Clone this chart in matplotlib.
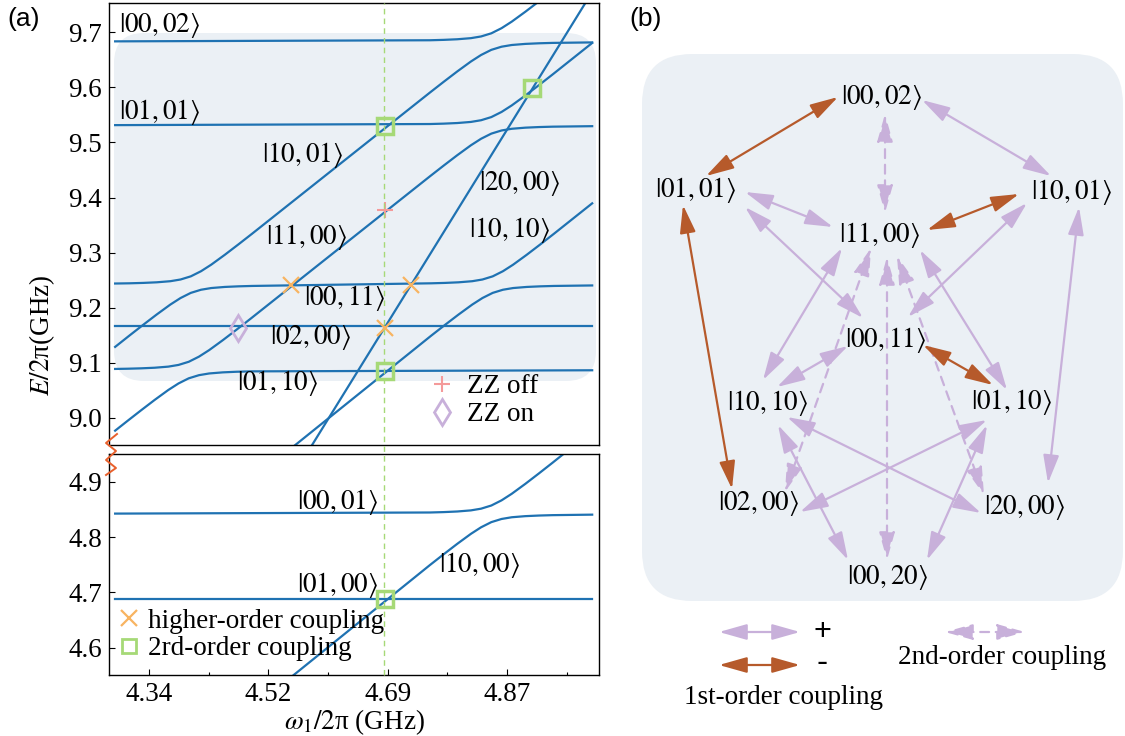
import matplotlib
matplotlib.use('Agg')
import matplotlib.pyplot as plt
from matplotlib.patches import FancyBboxPatch
from matplotlib.lines import Line2D
from matplotlib.transforms import IdentityTransform

plt.rcParams['font.family'] = ['Liberation Serif', 'DejaVu Serif']
plt.rcParams['mathtext.fontset'] = 'stix'
plt.rcParams['font.size'] = 19.5

W, H = 1125, 736
FS = 19.5

C = dict(
    level  = '#1f72b2',
    shade  = '#ebf0f5',
    green  = '#a6d977',
    orange = '#f8b461',
    pink   = '#f49a9a',
    purple = '#c8b0da',
    brown  = '#b65a2b',
    zig    = '#e8602c',
)

# ─────────────────────────────────────────────
# DATA  (a): dressed levels, omega_1/2pi vs E/2pi  (GHz)
# ─────────────────────────────────────────────
# upper panel, two-excitation manifold
w_0002 = [4.29, 4.752, 4.772, 4.792, 4.812, 4.827, 4.842, 4.857, 4.872, 4.892, 4.912, 4.932, 4.99]
e_0002 = [9.6834, 9.6854, 9.6861, 9.6872, 9.6892, 9.6923, 9.698, 9.7073, 9.7192, 9.7372, 9.7561, 9.7754, 9.831]

w_1001 = [4.29, 4.311, 4.331, 4.351, 4.371, 4.386, 4.401, 4.416, 4.431, 4.451, 4.471, 4.491,
          4.752, 4.772, 4.792, 4.812, 4.827, 4.842, 4.857, 4.872, 4.892, 4.912, 4.932, 4.99]
e_1001 = [9.244, 9.2444, 9.2451, 9.2462, 9.2482, 9.2513, 9.257, 9.2663, 9.2782, 9.2962, 9.3151, 9.3344,
          9.5906, 9.6099, 9.6288, 9.6468, 9.6587, 9.668, 9.6737, 9.6768, 9.6788, 9.6799, 9.6806, 9.6815]

w_0011 = [4.29, 4.311, 4.331, 4.351, 4.371, 4.386, 4.401, 4.416, 4.431, 4.451, 4.471, 4.491,
          4.754, 4.774, 4.794, 4.814, 4.829, 4.844, 4.859, 4.874, 4.894, 4.914, 4.934, 4.99]
e_0011 = [9.129, 9.1496, 9.1689, 9.1878, 9.2058, 9.2177, 9.227, 9.2327, 9.2358, 9.2378, 9.2389, 9.2396,
          9.2444, 9.2451, 9.2462, 9.2482, 9.2513, 9.257, 9.2663, 9.2782, 9.2962, 9.3151, 9.3344, 9.3895]

w_1010 = [4.29, 4.754, 4.774, 4.794, 4.814, 4.829, 4.844, 4.859, 4.874, 4.894, 4.914, 4.934, 4.99]
e_1010 = [8.688, 9.1496, 9.1689, 9.1878, 9.2058, 9.2177, 9.227, 9.2327, 9.2358, 9.2378, 9.2389, 9.2396, 9.2405]

w_0110 = [4.29, 4.308, 4.328, 4.348, 4.368, 4.383, 4.398, 4.413, 4.428, 4.448, 4.468, 4.488,
          4.752, 4.772, 4.792, 4.812, 4.827, 4.842, 4.857, 4.872, 4.892, 4.912, 4.932, 4.99]
e_0110 = [9.089, 9.0894, 9.0901, 9.0912, 9.0932, 9.0963, 9.102, 9.1113, 9.1232, 9.1412, 9.1601, 9.1794,
          9.4386, 9.4579, 9.4768, 9.4948, 9.5067, 9.516, 9.5217, 9.5248, 9.5268, 9.5279, 9.5286, 9.5295]

w_1100 = [4.29, 4.308, 4.328, 4.348, 4.368, 4.383, 4.398, 4.413, 4.428, 4.448, 4.468, 4.488, 4.99]
e_1100 = [8.977, 8.9946, 9.0139, 9.0328, 9.0508, 9.0627, 9.072, 9.0777, 9.0808, 9.0828, 9.0839, 9.0846, 9.0866]

w_0101 = [4.29, 4.752, 4.772, 4.792, 4.812, 4.827, 4.842, 4.857, 4.872, 4.892, 4.912, 4.932, 4.99]
e_0101 = [9.5314, 9.5334, 9.5341, 9.5352, 9.5372, 9.5403, 9.546, 9.5553, 9.5672, 9.5852, 9.6041, 9.6234, 9.6805]

w_2000 = [4.55, 4.99]
e_2000 = [8.893, 9.773]

w_0200 = [4.29, 4.99]
e_0200 = [9.167, 9.167]

# lower panel, single-excitation manifold
w_0001 = [4.29, 4.752, 4.772, 4.792, 4.812, 4.827, 4.842, 4.857, 4.872, 4.892, 4.912, 4.932, 4.99]
e_0001 = [4.8424, 4.8444, 4.8451, 4.8462, 4.8482, 4.8513, 4.857, 4.8663, 4.8782, 4.8962, 4.9151, 4.9344, 4.9915]

w_1000 = [4.50, 4.752, 4.772, 4.792, 4.812, 4.827, 4.842, 4.857, 4.872, 4.892, 4.912, 4.932, 4.99]
e_1000 = [4.4993, 4.7496, 4.7689, 4.7878, 4.8058, 4.8177, 4.827, 4.8327, 4.8358, 4.8378, 4.8389, 4.8396, 4.8405]

w_0100 = [4.29, 4.99]
e_0100 = [4.689, 4.689]

# operating point and marked crossings
w_op = 4.684
sq_w_top, sq_e_top = [4.686, 4.686, 4.902], [9.529, 9.085, 9.598]
sq_w_bot, sq_e_bot = [4.686], [4.689]
hx_w, hx_e = [4.548, 4.686, 4.724], [9.242, 9.164, 9.242]
off_w, off_e = [4.686], [9.377]
on_w, on_e = [4.471], [9.164]

xticks = [4.34, 4.515, 4.69, 4.865]
xticklabels = ['4.34', '4.52', '4.69', '4.87']
xminor = [4.4275, 4.6025, 4.7775, 4.9525]
yticks_top = [9.0, 9.1, 9.2, 9.3, 9.4, 9.5, 9.6, 9.7]
yticks_bot = [4.6, 4.7, 4.8, 4.9]

# ket labels (a): text, omega, E
labels_top = [
    (r'$|00,02\rangle$', 4.296, 9.713),
    (r'$|01,01\rangle$', 4.296, 9.556),
    (r'$|10,01\rangle$', 4.505, 9.477),
    (r'$|11,00\rangle$', 4.511, 9.328),
    (r'$|20,00\rangle$', 4.824, 9.426),
    (r'$|10,10\rangle$', 4.809, 9.341),
    (r'$|00,11\rangle$', 4.567, 9.217),
    (r'$|02,00\rangle$', 4.517, 9.146),
    (r'$|01,10\rangle$', 4.469, 9.063),
]
labels_bot = [
    (r'$|00,01\rangle$', 4.557, 4.864),
    (r'$|01,00\rangle$', 4.557, 4.714),
    (r'$|10,00\rangle$', 4.765, 4.750),
]

# ─────────────────────────────────────────────
# DATA  (b): coupling graph
# ─────────────────────────────────────────────
states = ['00,02', '01,01', '10,01', '11,00', '00,11', '10,10', '01,10', '02,00', '20,00', '00,20']
first_minus = [('01,01', '00,02'), ('11,00', '10,01'), ('01,01', '02,00'), ('00,11', '01,10')]
first_plus = [('00,02', '10,01'), ('01,01', '11,00'), ('01,01', '00,11'), ('11,00', '10,10'),
              ('10,01', '00,11'), ('11,00', '01,10'), ('10,01', '20,00'), ('00,11', '10,10'),
              ('10,10', '20,00'), ('01,10', '02,00'), ('10,10', '00,20'), ('01,10', '00,20')]
second = [('00,02', '11,00'), ('11,00', '02,00'), ('11,00', '00,20'), ('11,00', '20,00')]

# layout of (b) in pixels (origin top-left)
node_xy = {'00,02': (882, 97), '01,01': (696, 190), '10,01': (1072, 192), '11,00': (880, 235),
           '00,11': (886, 340), '10,10': (768, 403), '01,10': (1012, 402), '02,00': (759, 503),
           '20,00': (1025, 507), '00,20': (888, 577)}
tips = {
    ('01,01', '00,02'): ((706, 176), (838, 97)),
    ('11,00', '10,01'): ((927, 230), (1019, 194)),
    ('01,01', '02,00'): ((683, 205), (732, 489)),
    ('00,11', '01,10'): ((923, 345), (993, 385)),
    ('00,02', '10,01'): ((922, 100), (1051, 176)),
    ('01,01', '11,00'): ((745, 192), (833, 227)),
    ('01,01', '00,11'): ((745, 207), (863, 318)),
    ('11,00', '10,10'): ((842, 248), (763, 380)),
    ('10,01', '00,11'): ((1027, 203), (908, 317)),
    ('11,00', '01,10'): ((920, 250), (1007, 390)),
    ('10,01', '20,00'): ((1079, 207), (1048, 483)),
    ('00,11', '10,10'): ((848, 346), (777, 387)),
    ('10,10', '20,00'): ((787, 417), (981, 513)),
    ('01,10', '02,00'): ((987, 420), (800, 512)),
    ('10,10', '00,20'): ((778, 425), (848, 560)),
    ('01,10', '00,20'): ((987, 425), (927, 560)),
    ('00,02', '11,00'): ((885, 114), (885, 213)),
    ('11,00', '02,00'): ((871, 248), (785, 492)),
    ('11,00', '00,20'): ((887, 257), (887, 560)),
    ('11,00', '20,00'): ((897, 256), (984, 495)),
}

# ─────────────────────────────────────────────
# FIGURE
# ─────────────────────────────────────────────
fig = plt.figure(figsize=(W / 100, H / 100), dpi=100, facecolor='white')
ax_t = fig.add_axes([109 / W, 1 - 445 / H, 490 / W, 442 / H])
ax_b = fig.add_axes([109 / W, 1 - 675 / H, 490 / W, 221 / H])

shade = FancyBboxPatch((114, H - 381), 482, 348, boxstyle='round,pad=0,rounding_size=30',
                       transform=IdentityTransform(), facecolor=C['shade'], edgecolor='none', zorder=0.5)
ax_t.add_artist(shade)

lw = 1.6
for w, e in [(w_0002, e_0002), (w_1001, e_1001), (w_0011, e_0011), (w_1010, e_1010),
             (w_0110, e_0110), (w_1100, e_1100), (w_0101, e_0101), (w_2000, e_2000), (w_0200, e_0200)]:
    ax_t.plot(w, e, color=C['level'], lw=lw, zorder=2)
for w, e in [(w_0001, e_0001), (w_1000, e_1000), (w_0100, e_0100)]:
    ax_b.plot(w, e, color=C['level'], lw=lw, zorder=2)

# markers
sq_kw = dict(ls='none', marker='s', ms=11, mfc='none', mec=C['green'], mew=2.5, zorder=4)
hx_kw = dict(ls='none', marker='x', ms=11, color=C['orange'], mew=1.6, zorder=4)
off_kw = dict(ls='none', marker='+', ms=12, color=C['pink'], mew=1.5, zorder=4)
on_kw = dict(ls='none', marker='d', ms=13, mfc='none', mec=C['purple'], mew=2.0, zorder=4)
ax_t.plot(sq_w_top, sq_e_top, **sq_kw)
ax_t.plot(hx_w, hx_e, **hx_kw)
ax_t.plot(off_w, off_e, **off_kw)
ax_t.plot(on_w, on_e, **on_kw)
ax_b.plot(sq_w_bot, sq_e_bot, **sq_kw)

# operating point (spans both panels)
ax_b.axvline(w_op, ymin=0, ymax=(675 - 3) / 221, color=C['green'], ls='--', lw=1.0,
             dashes=(4, 3), clip_on=False, zorder=3)

for txt, x, y in labels_top:
    ax_t.text(x, y, txt, ha='left', va='center', fontsize=FS, zorder=5)
for txt, x, y in labels_bot:
    ax_b.text(x, y, txt, ha='left', va='center', fontsize=FS, zorder=5)

# axes cosmetics
for ax in (ax_t, ax_b):
    ax.set_xlim(4.281, 5.0)
    for s in ax.spines.values():
        s.set_linewidth(1.0)
    ax.tick_params(direction='in', length=4, width=0.8, labelsize=FS, pad=5)
    ax.tick_params(which='minor', direction='in', length=2.5, width=0.8)
ax_t.set_ylim(8.951, 9.753)
ax_b.set_ylim(4.551, 4.95)
ax_t.set_xticks([])
ax_t.set_yticks(yticks_top)
ax_t.set_yticklabels([f'{v:.1f}' for v in yticks_top])
ax_b.set_yticks(yticks_bot)
ax_b.set_yticklabels([f'{v:.1f}' for v in yticks_bot])
ax_b.set_xticks(xticks)
ax_b.set_xticklabels(xticklabels)
ax_b.set_xticks(xminor, minor=True)

# legends
h_off = Line2D([], [], **off_kw)
h_on = Line2D([], [], **on_kw)
ax_t.legend([h_off, h_on], ['ZZ off', 'ZZ on'], loc='upper left', bbox_to_anchor=(0.651, 0.16),
            frameon=False, handlelength=1.0, handletextpad=0.45, labelspacing=0.1,
            borderpad=0, borderaxespad=0, fontsize=FS)
h_hx = Line2D([], [], **hx_kw)
h_sq = Line2D([], [], **dict(sq_kw, mew=2.0, ms=10))
ax_b.legend([h_hx, h_sq], ['higher-order coupling', '2rd-order coupling'], loc='upper left',
            bbox_to_anchor=(0.018, 0.30), frameon=False, handlelength=0.8, handletextpad=0.3,
            labelspacing=0.1, borderpad=0, borderaxespad=0, fontsize=FS)

fig.text(354 / W, 1 - 722 / H, r'$\omega_1/2$π (GHz)', ha='center', va='center', fontsize=FS)
fig.text(42 / W, 1 - 335 / H, r'$E/2$π(GHz)', ha='center', va='center', rotation=90, fontsize=FS)

# broken-axis zigzag
zig_px = [(117, 434), (106, 443), (116, 451), (106, 460), (116, 468), (106, 475)]
fig.add_artist(Line2D([p[0] for p in zig_px], [H - p[1] for p in zig_px], color=C['zig'], lw=1.4,
                      transform=IdentityTransform(), clip_on=False))

# panel tags
fig.text(24 / W, 1 - 19 / H, '(a)', ha='center', va='center', fontsize=19, family='Liberation Sans')
fig.text(646 / W, 1 - 19 / H, '(b)', ha='center', va='center', fontsize=19, family='Liberation Sans')

# ─────────────────────────────────────────────
# (b) coupling graph
# ─────────────────────────────────────────────
ax_r = fig.add_axes([620 / W, 0, 505 / W, 1])
ax_r.set_xlim(620, 1125)
ax_r.set_ylim(H, 0)
ax_r.axis('off')
ax_r.add_patch(FancyBboxPatch((642, 54), 481, 547, boxstyle='round,pad=0,rounding_size=50',
                              facecolor=C['shade'], edgecolor='none', zorder=0))

for s in states:
    x, y = node_xy[s]
    ax_r.text(x, y, r'$|' + s + r'\rangle$', ha='center', va='center', fontsize=FS, zorder=5)


def arrow(p0, p1, color, ls='-'):
    ax_r.annotate('', xy=p1, xytext=p0,
                  arrowprops=dict(arrowstyle='<|-|>,head_length=0.85,head_width=0.24', color=color,
                                  lw=1.6, ls=ls, shrinkA=0, shrinkB=0, mutation_scale=20), zorder=3)


for e in first_plus:
    arrow(*tips[e], C['purple'])
for e in second:
    arrow(*tips[e], C['purple'], ls=(0, (4, 3)))
for e in first_minus:
    arrow(*tips[e], C['brown'])

# legend of (b)
arrow((719, 632), (800, 632), C['purple'])
arrow((719, 665), (800, 665), C['brown'])
arrow((945, 632), (1025, 632), C['purple'], ls=(0, (4, 3)))
ax_r.text(822, 632, '+', ha='center', va='center', fontsize=22, family='Liberation Sans')
ax_r.text(822, 663, '-', ha='center', va='center', fontsize=24, family='Liberation Sans')
ax_r.text(783, 698, '1st-order coupling', ha='center', va='center', fontsize=FS)
ax_r.text(1002, 657, '2nd-order coupling', ha='center', va='center', fontsize=FS)

fig.savefig('out.png', dpi=100, facecolor='white')
